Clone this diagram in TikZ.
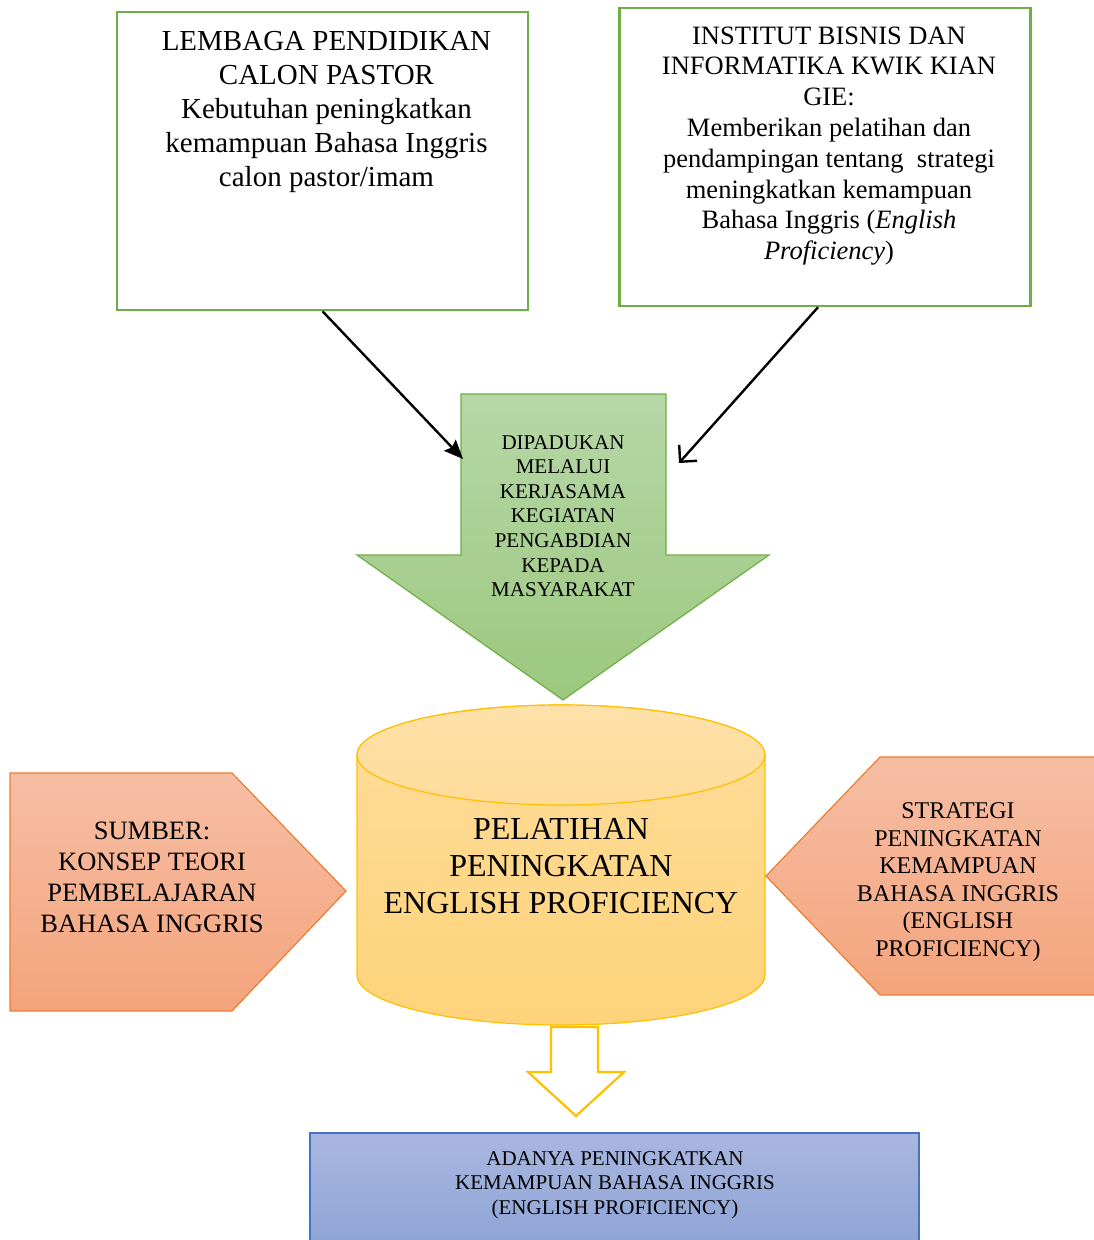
\documentclass[tikz,border=0pt]{standalone}
\usepackage{fontspec}
\setmainfont{Liberation Serif}
\usetikzlibrary{arrows.meta}
\definecolor{gstroke}{HTML}{70AD47}
\definecolor{gtop}{HTML}{B6D7A8}
\definecolor{gbot}{HTML}{9CC87D}
\definecolor{ystroke}{HTML}{FFC000}
\definecolor{ytop}{HTML}{FEDC9A}
\definecolor{ybot}{HTML}{FED37A}
\definecolor{ostroke}{HTML}{ED7D31}
\definecolor{otop}{HTML}{F6BEA4}
\definecolor{obot}{HTML}{F4A47C}
\definecolor{bstroke}{HTML}{4472C4}
\definecolor{btop}{HTML}{A9B7E0}
\definecolor{bbot}{HTML}{8CA3D5}
\tikzset{
  topbox/.style={draw=gstroke, line width=2.5pt, minimum width=411pt, minimum height=298pt, inner sep=0pt},
  txt/.style={align=center, inner sep=0pt, text=black},
  link/.style={line width=2.4pt, draw=black},
}
\begin{document}
\begin{tikzpicture}[x=1pt, y=-1pt]
\useasboundingbox (0,0) rectangle (1094,1240);
% top boxes
\node[topbox] (tl) at (322.5,161) {};
\node[txt, font=\fontsize{29}{34}\selectfont] (tlt) at (326.5,112) {LEMBAGA PENDIDIKAN\\CALON PASTOR\\Kebutuhan peningkatkan\\kemampuan Bahasa Inggris\\calon pastor/imam};
\node[topbox] (tr) at (825,157) {};
\node[txt, font=\fontsize{26.5}{30.8}\selectfont] (trt) at (829,146) {INSTITUT BISNIS DAN\\INFORMATIKA KWIK KIAN\\GIE:\\Memberikan pelatihan dan\\pendampingan tentang\ \ strategi\\meningkatkan kemampuan\\Bahasa Inggris (\textit{English}\\\textit{Proficiency})};
% green arrow
\path[draw=gstroke, line width=1.2pt, top color=gtop, bottom color=gbot]
  (461,394) -- (666,394) -- (666,555) -- (769,555) -- (563,700) -- (357,555) -- (461,555) -- cycle;
\node[txt, font=\fontsize{21}{24.6}\selectfont] (join) at (563,516) {DIPADUKAN\\MELALUI\\KERJASAMA\\KEGIATAN\\PENGABDIAN\\KEPADA\\MASYARAKAT};
\coordinate (j1) at (463,459);
\coordinate (j2) at (679,463);
\draw[link, -{Stealth[length=19pt, width=16pt, inset=3pt]}] (tl.south) -- (j1);
\draw[link, -{Straight Barb[length=12pt, width=24pt]}] ([xshift=-7pt]tr.south) -- (j2);
% cylinder
\path[draw=ystroke, line width=1.2pt, top color=ytop, bottom color=ybot]
  (357,755) -- (357,975) arc(180:0:204 and 50) -- (765,755) arc(0:-180:204 and 50) -- cycle;
\path[draw=ystroke, line width=1.2pt, top color=ytop!85!white, bottom color=ytop] (561,755) ellipse (204 and 50);
\node[txt, font=\fontsize{32}{37}\selectfont] (cyl) at (561,866) {PELATIHAN\\PENINGKATAN\\ENGLISH PROFICIENCY};
% left pentagon
\path[draw=ostroke, line width=1.2pt, top color=otop, bottom color=obot]
  (10,773) -- (232,773) -- (346,891) -- (232,1011) -- (10,1011) -- cycle;
\node[txt, font=\fontsize{26.5}{31}\selectfont] (src) at (152,877) {SUMBER:\\KONSEP TEORI\\PEMBELAJARAN\\BAHASA INGGRIS};
% right pentagon
\path[draw=ostroke, line width=1.2pt, top color=otop, bottom color=obot]
  (880,757) -- (1104,757) -- (1104,995) -- (880,995) -- (766,876) -- cycle;
\node[txt, font=\fontsize{24}{27.6}\selectfont] (strat) at (958,882) {STRATEGI\\PENINGKATAN\\KEMAMPUAN\\BAHASA INGGRIS\\(ENGLISH\\PROFICIENCY)};
% hollow arrow
\path[draw=ystroke, line width=2.2pt, fill=white]
  (551,1027) -- (598,1027) -- (598,1072) -- (624,1072) -- (576,1116) -- (528,1072) -- (551,1072) -- cycle;
% bottom box
\path[draw=bstroke, line width=1.2pt, top color=btop, bottom color=bbot] (310,1133) rectangle (919,1252);
\node[txt, font=\fontsize{21}{24.5}\selectfont] (res) at (615,1185) {ADANYA PENINGKATKAN\\KEMAMPUAN BAHASA INGGRIS\\(ENGLISH PROFICIENCY)};
\end{tikzpicture}
\end{document}
